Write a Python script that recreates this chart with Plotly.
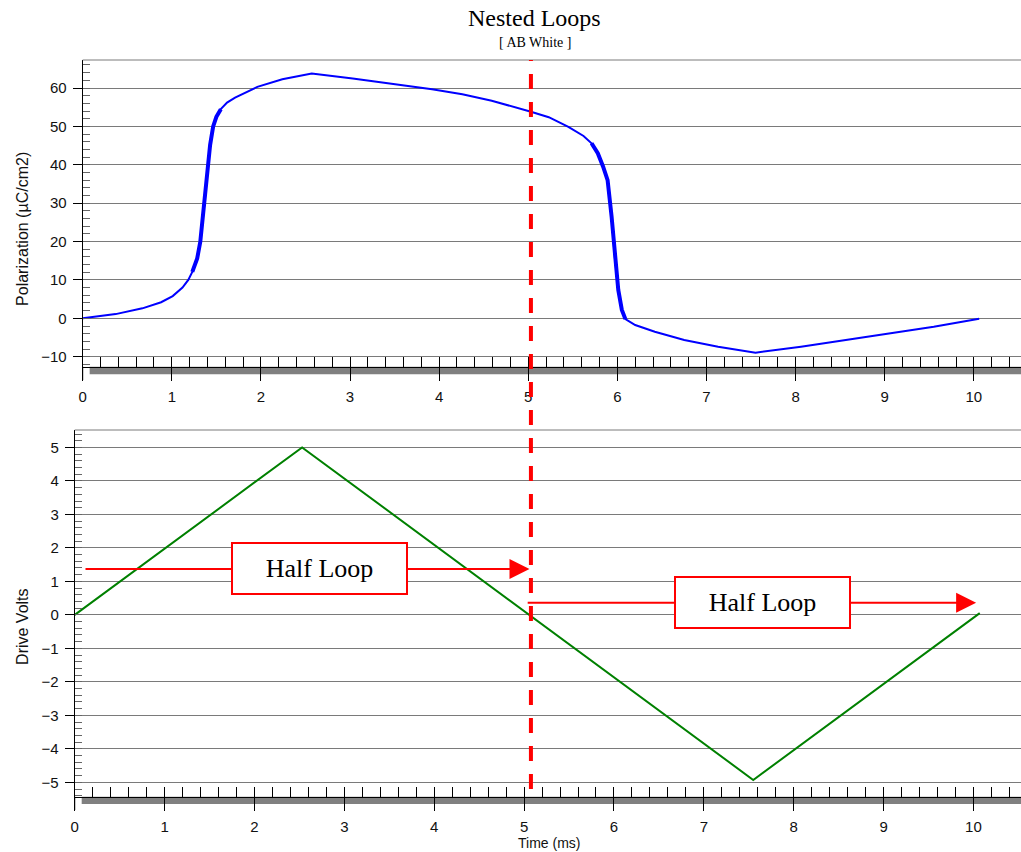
import plotly.graph_objects as go

# ---------------- data ----------------
pol_t = [0.00, 0.37, 0.67, 0.88, 1.01, 1.12, 1.185, 1.23, 1.285, 1.32, 1.367, 1.405, 1.43, 1.464,
         1.50, 1.55, 1.62, 1.71, 1.96, 2.24, 2.57, 3.03, 3.40, 3.92, 4.26, 4.59, 5.03, 5.23, 5.45,
         5.62, 5.71, 5.78, 5.84, 5.89, 5.935, 5.97, 6.01, 6.05, 6.09, 6.20, 6.42, 6.75, 7.13, 7.55,
         8.06, 8.62, 9.18, 9.55, 10.06]
pol_v = [0.0, 1.1, 2.6, 4.2, 5.8, 8.0, 10.0, 12.1, 15.6, 20.0, 30.0, 40.0, 45.2, 50.0,
         52.5, 54.5, 56.2, 57.5, 60.3, 62.3, 63.8, 62.5, 61.4, 59.7, 58.4, 56.7, 53.8, 52.4, 49.9,
         47.5, 45.6, 43.0, 39.5, 36.0, 26.5, 16.1, 7.4, 2.2, -0.2, -1.75, -3.5, -5.65, -7.4, -8.95,
         -7.4, -5.5, -3.65, -2.2, -0.1]
rise_idx = (7, 15)   # steep switching segments (drawn heavier)
fall_idx = (30, 38)

drive_t = [0.0, 2.53, 7.55, 10.07]
drive_v = [0.0, 5.0, -4.93, 0.05]

x_ticks = [0, 1, 2, 3, 4, 5, 6, 7, 8, 9, 10]
pol_ticks = [-10, 0, 10, 20, 30, 40, 50, 60]
volt_ticks = [-5, -4, -3, -2, -1, 0, 1, 2, 3, 4, 5]

title = "Nested Loops"
subtitle = "[ AB White ]"
half_loops = [  # (start, box centre, tip, y)
    (0.12, 2.72, 5.06, 1.37),
    (5.04, 7.65, 10.03, 0.36),
]

# ---------------- figure ----------------
W, H = 1021, 852
def px(x): return x / W
def py(y): return 1 - y / H

fig = go.Figure()
fig.add_trace(go.Scatter(x=pol_t, y=pol_v, mode="lines",
                         line=dict(color="#0000FF", width=2),
                         xaxis="x", yaxis="y", showlegend=False, hoverinfo="skip"))
for a, b in (rise_idx, fall_idx):
    fig.add_trace(go.Scatter(x=pol_t[a:b + 1], y=pol_v[a:b + 1], mode="lines",
                             line=dict(color="#0000FF", width=4), xaxis="x", yaxis="y",
                             showlegend=False, hoverinfo="skip"))
fig.add_trace(go.Scatter(x=drive_t, y=drive_v, mode="lines", line=dict(color="#008000", width=2),
                         xaxis="x2", yaxis="y2", showlegend=False, hoverinfo="skip"))

SANS = "Arial, Liberation Sans, sans-serif"
SERIF = "Liberation Serif, Times New Roman, serif"
tickfont = dict(family=SANS, size=15, color="#111")
xr = [0, 10.529]

def xaxis(dom, anchor):
    return dict(domain=dom, anchor=anchor, range=xr, tickmode="array", tickvals=x_ticks,
                ticks="outside", ticklen=13, tickcolor="black", tickwidth=1,
                showline=True, linecolor="black", linewidth=1, showgrid=False, zeroline=False,
                tickfont=tickfont, ticklabelstandoff=3,
                minor=dict(dtick=0.2, tick0=0, ticks="inside", ticklen=10, tickcolor="black",
                           showgrid=False))

def xover(dom, over, anchor):
    return dict(domain=dom, overlaying=over, anchor=anchor, range=xr, tickmode="array",
                tickvals=x_ticks, ticks="inside", ticklen=10, tickcolor="black",
                showticklabels=False, showline=False, showgrid=False, zeroline=False)

def yaxis(dom, anchor, rng, vals, mdt):
    return dict(domain=dom, anchor=anchor, range=rng, tickmode="array", tickvals=vals,
                ticks="outside", ticklen=9, tickcolor="black", showline=True, linecolor="black",
                linewidth=1, showgrid=True, gridcolor="#7a7a7a", gridwidth=1, zeroline=False,
                tickfont=tickfont, ticklabelstandoff=3,
                minor=dict(dtick=mdt, tick0=0, ticks="inside", ticklen=7, tickcolor="#666",
                           showgrid=False))

top_x = [px(79), 1.0]
bot_x = [px(71), 1.0]
top_y = [py(366.7), py(60)]
bot_y = [py(796.7), py(430)]

fig.update_layout(
    width=W, height=H, margin=dict(l=0, r=0, t=0, b=0),
    paper_bgcolor="white", plot_bgcolor="white",
    xaxis=xaxis(top_x, "y"),
    yaxis=yaxis(top_y, "x", [-12.6, 67.3], pol_ticks, 2),
    xaxis2=xaxis(bot_x, "y2"),
    yaxis2=yaxis(bot_y, "x2", [-5.43, 5.52], volt_ticks, 0.2),
    xaxis3=xover(top_x, "x", "y"),
    xaxis4=xover(bot_x, "x2", "y2"),
)

shapes = []
# top frame lines
for yy, x0 in ((60, 79), (430, 71)):
    shapes.append(dict(type="line", xref="paper", yref="paper", x0=px(x0), x1=1, y0=py(yy), y1=py(yy),
                       line=dict(color="#7a7a7a", width=1)))
# grey shadow bars under x axes
for ya, yb, x0 in ((366.7, 374.3, 86), (796.7, 804, 78)):
    shapes.append(dict(type="rect", xref="paper", yref="paper", x0=px(x0), x1=1, y0=py(yb), y1=py(ya),
                       fillcolor="#808080", line=dict(width=0), layer="below"))
# y axis line extensions
for xx, ya, yb in ((79, 366.7, 380), (71, 796.7, 810)):
    shapes.append(dict(type="line", xref="paper", yref="paper", x0=px(xx), x1=px(xx), y0=py(ya), y1=py(yb),
                       line=dict(color="black", width=1)))
# dashed red divider
shapes.append(dict(type="line", xref="paper", yref="paper", x0=px(529), x1=px(529), y0=py(789), y1=py(60),
                   line=dict(color="#FF0000", width=4, dash="15px,13px"), layer="above"))
# arrow tails
for x0, xc, tip, yv in half_loops:
    shapes.append(dict(type="line", xref="x2", yref="y2", x0=x0, x1=xc, y0=yv, y1=yv,
                       line=dict(color="#FF0000", width=2)))

def label(text, x, y, size, family, angle=0):
    return dict(text=text, x=px(x), y=py(y), xref="paper", yref="paper", showarrow=False,
                xanchor="center", yanchor="middle", textangle=angle,
                font=dict(family=family, size=size, color="black" if family == SERIF else "#111"))

annotations = [
    label(title, 533, 18.5, 24, SERIF),
    label(subtitle, 533, 42, 14, SERIF),
    label("Polarization (µC/cm2)", 18, 229, 16, SANS, -90),
    label("Drive Volts", 18, 627, 16, SANS, -90),
    label("Time (ms)", 547, 843, 14, SANS),
]
for x0, xc, tip, yv in half_loops:
    annotations.append(dict(
        text="Half Loop", x=tip, y=yv, xref="x2", yref="y2", ax=xc, ay=yv, axref="x2", ayref="y2",
        showarrow=True, arrowhead=2, arrowsize=2, arrowwidth=2, arrowcolor="#FF0000", standoff=0,
        bgcolor="white", bordercolor="#FF0000", borderwidth=2, borderpad=0, width=173, height=49,
        font=dict(family=SERIF, size=26, color="black")))

fig.update_layout(shapes=shapes, annotations=annotations)
fig.write_html("out.html")
